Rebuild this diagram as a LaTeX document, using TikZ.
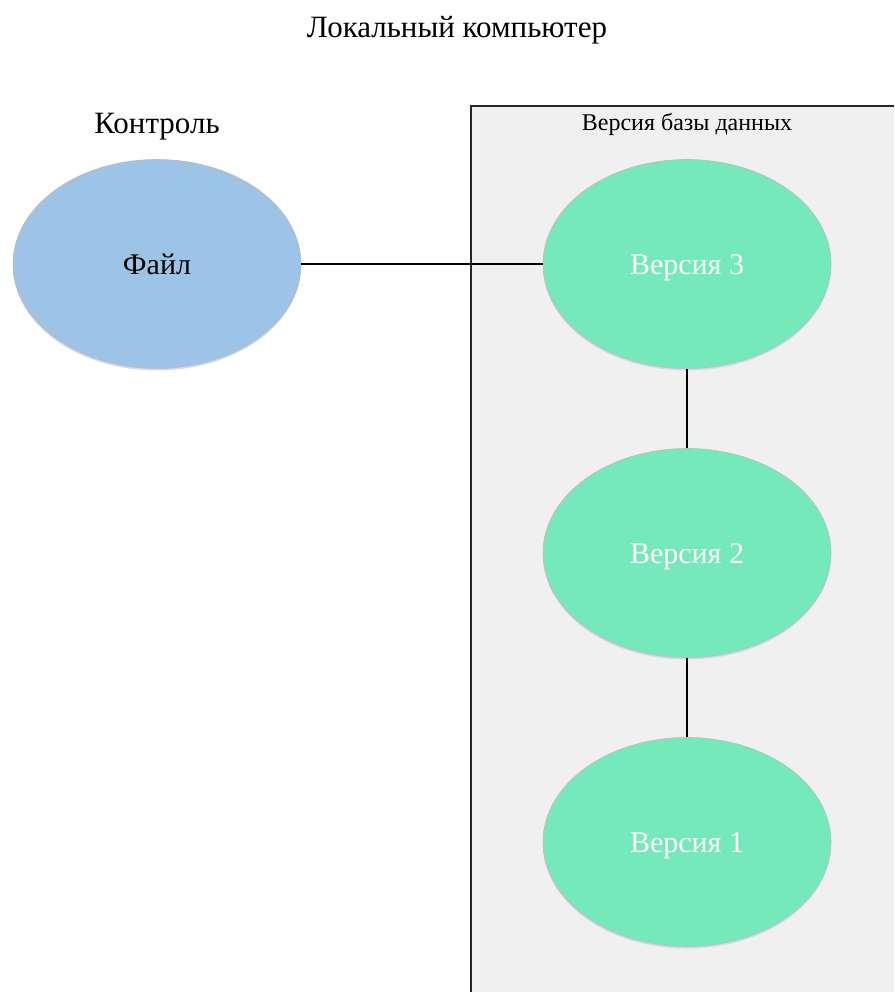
\documentclass[tikz,border=0pt]{standalone}
\usepackage{fontspec}
\setmainfont{Liberation Serif}
\usetikzlibrary{shapes.geometric,shadows}
\definecolor{fileblue}{HTML}{9DC3E6}
\definecolor{vergreen}{HTML}{75E9BA}
\definecolor{boxgray}{HTML}{F0F0F0}
\definecolor{rimgray}{HTML}{C8B8B8}
\definecolor{shadowblue}{HTML}{C5D5EA}
\tikzset{
  oval/.style={ellipse, draw=rimgray, line width=0.6pt, minimum width=288pt, minimum height=209pt, inner sep=0pt,
    text height=26pt, text depth=6pt,
    drop shadow={shadow xshift=0pt, shadow yshift=-2pt, fill=shadowblue, opacity=0.8}},
  fileoval/.style={oval, fill=fileblue, font=\fontsize{30}{34}\selectfont, text=black},
  veroval/.style={oval, fill=vergreen, font=\fontsize{30}{34}\selectfont, text=white},
  link/.style={draw=black, line width=1.2pt}
}
\begin{document}
\begin{tikzpicture}[x=1pt,y=-1pt]
\useasboundingbox (0,0) rectangle (894,992);
\fill[white] (0,0) rectangle (894,992);
\fill[boxgray] (471,106) rectangle (894,992);
\draw[line width=1.2pt, black!85] (471,992) -- (471,106) -- (894,106);
\node (title) at (457,30) {\fontsize{31}{34}\selectfont Локальный компьютер};
\node (ctrl) at (157,127) {\fontsize{31}{34}\selectfont Контроль};
\node (dbl) at (687,124) {\fontsize{24}{27}\selectfont Версия базы данных};
\node[fileoval] (file) at (157,264) {Файл};
\node[veroval] (v3) at (687,264) {Версия 3};
\node[veroval] (v2) at (687,553) {Версия 2};
\node[veroval] (v1) at (687,842) {Версия 1};
\draw[link] (file.east) -- (v3.west);
\draw[link] (v3.south) -- (v2.north);
\draw[link] (v2.south) -- (v1.north);
\end{tikzpicture}
\end{document}
